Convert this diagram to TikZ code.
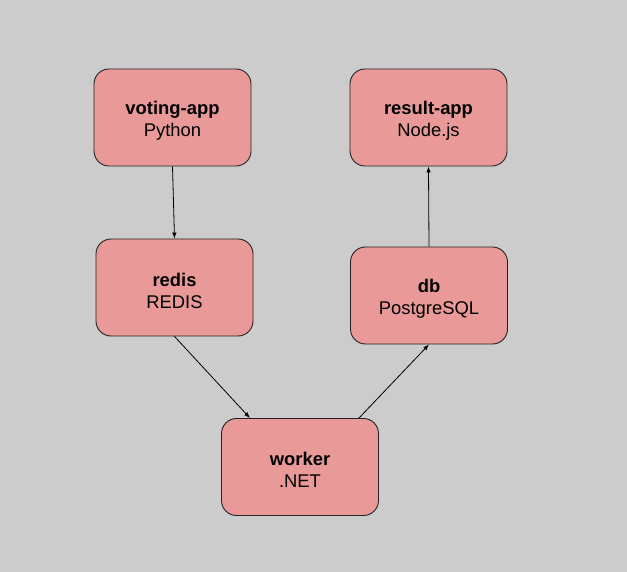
\documentclass[tikz,border=0pt]{standalone}
\usepackage{fontspec}
\setmainfont{Liberation Sans}
\usetikzlibrary{arrows.meta,calc}
\definecolor{bgc}{HTML}{CCCCCC}
\definecolor{boxfill}{HTML}{EA9999}
\definecolor{boxline}{HTML}{222222}
\newcommand{\topstrut}{\rule{0pt}{19.5pt}}
\tikzset{
  svc/.style={draw=boxline, fill=boxfill, line width=0.9pt, rounded corners=15pt,
    minimum width=157pt, minimum height=97pt, inner sep=0pt, align=center,
    font=\fontsize{18.4}{22}\selectfont},
  conn/.style={draw=black, line width=0.8pt, -{Latex[length=6pt,width=4.5pt]}}
}
\begin{document}
\begin{tikzpicture}[x=1pt,y=-1pt]
\fill[bgc] (0,0) rectangle (627,572);
\useasboundingbox (0,0) rectangle (627,572);
\node[svc] (vote) at (172.5,117.5) {\topstrut\textbf{voting-app}\\Python};
\node[svc] (result) at (428.5,117.5) {\topstrut\textbf{result-app}\\Node.js};
\node[svc] (redis) at (174.5,287.5) {\topstrut\textbf{redis}\\REDIS};
\node[svc] (db) at (429,295.5) {\topstrut\textbf{db}\\PostgreSQL};
\node[svc] (worker) at (300,467) {\topstrut\textbf{worker}\\.NET};
\draw[conn] (vote.south) -- (redis.north);
\draw[conn] (redis.south) -- ($(worker.north)+(-50,0)$);
\draw[conn] ($(worker.north)+(59,0)$) -- (db.south);
\draw[conn] (db.north) -- (result.south);
\end{tikzpicture}
\end{document}
